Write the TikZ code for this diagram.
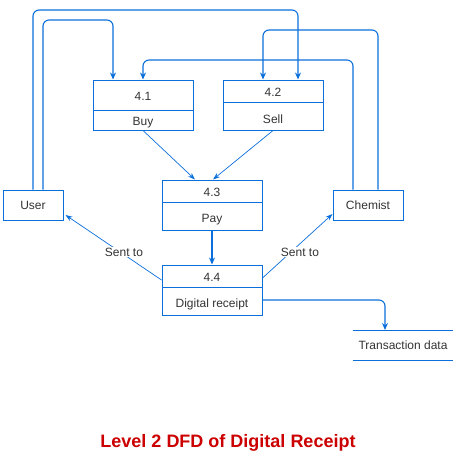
\documentclass[tikz,border=0pt]{standalone}
\usepackage{fontspec}
\setmainfont{Liberation Sans}
\usetikzlibrary{arrows.meta}
\definecolor{dfdblue}{HTML}{0B6FDB}
\definecolor{txtgray}{HTML}{333333}
\definecolor{titlered}{HTML}{CC0000}
\begin{document}
\begin{tikzpicture}[x=1pt,y=-1pt,
  proc/.style={draw=dfdblue,line width=1pt,minimum width=100pt,minimum height=50pt,inner sep=0pt},
  ent/.style={draw=dfdblue,line width=1pt,minimum height=30pt,inner sep=0pt},
  lbl/.style={text=txtgray,font=\fontsize{12}{14}\selectfont,inner sep=0pt},
  flow/.style={draw=dfdblue,line width=1.1pt,rounded corners=6pt,-{Stealth[length=7pt,width=6pt]}},
  thin/.style={draw=dfdblue,line width=0.7pt,-{Stealth[length=7pt,width=5pt]}},
  edgelbl/.style={lbl,fill=white,inner sep=1pt}]
\useasboundingbox (0,0) rectangle (457,471);
% processes
\node[proc] (p41) at (143,105) {};
\node[proc] (p42) at (273,105) {};
\node[proc] (p43) at (212,205) {};
\node[proc] (p44) at (212,290) {};
\draw[dfdblue,line width=1pt] (93,110) -- (193,110);
\draw[dfdblue,line width=1pt] (223,102) -- (323,102);
\draw[dfdblue,line width=1pt] (162,202) -- (262,202);
\draw[dfdblue,line width=1pt] (162,287) -- (262,287);
\node[lbl] (t41) at (143,96) {4.1};
\node[lbl] (b41) at (143,123) {Buy};
\node[lbl] (t42) at (273,92) {4.2};
\node[lbl] (b42) at (273,119) {Sell};
\node[lbl] (t43) at (212,192) {4.3};
\node[lbl] (b43) at (212,220) {Pay};
\node[lbl] (t44) at (212,277) {4.4};
\node[lbl] (b44) at (212,304) {Digital receipt};
% entities
\node[ent,minimum width=60pt] (user) at (33,205) {};
\node[lbl] (usert) at (33,205) {User};
\node[ent,minimum width=70pt] (chem) at (368,205) {};
\node[lbl] (chemt) at (368,205) {Chemist};
% data store
\coordinate (dsTL) at (353,330);
\coordinate (dsTR) at (453,330);
\coordinate (dsBL) at (353,360);
\coordinate (dsBR) at (453,360);
\draw[dfdblue,line width=1pt] (dsTL) -- (dsTR);
\draw[dfdblue,line width=1pt] (dsBL) -- (dsBR);
\node[lbl] (ds) at (403,345.5) {Transaction data};
\coordinate (dsin) at (385,330);
% connectors
\draw[flow] ([xshift=10pt]user.north) -- (43,20) -- (113,20) -- ([xshift=-30pt]p41.north);
\draw[flow] (user.north) -- (33,10) -- (298,10) -- ([xshift=25pt]p42.north);
\draw[flow] ([xshift=10pt]chem.north) -- (378,30) -- (263,30) -- ([xshift=-10pt]p42.north);
\draw[flow] ([xshift=-15pt]chem.north) -- (353,60) -- (143,60) -- (p41.north);
\draw[thin] (p41.south) -- ([xshift=-17pt]p43.north);
\draw[thin] (p42.south) -- ([xshift=1pt]p43.north);
\draw[flow] (p43.south) -- (p44.north);
\draw[thin] ([yshift=10pt]p44.west) -- ([xshift=2pt,yshift=-10pt]user.east);
\draw[thin] ([yshift=12pt]p44.east) -- ([yshift=-9pt]chem.west);
\node[edgelbl] (s1) at (124,252) {Sent to};
\node[edgelbl] (s2) at (300,252) {Sent to};
\draw[flow] ([yshift=-10pt]p44.east) -- (385,300) -- (dsin);
% title
\node[font=\bfseries\fontsize{18}{20}\selectfont,text=titlered,inner sep=0pt] (title) at (228,443) {Level 2 DFD of Digital Receipt};
\end{tikzpicture}
\end{document}
